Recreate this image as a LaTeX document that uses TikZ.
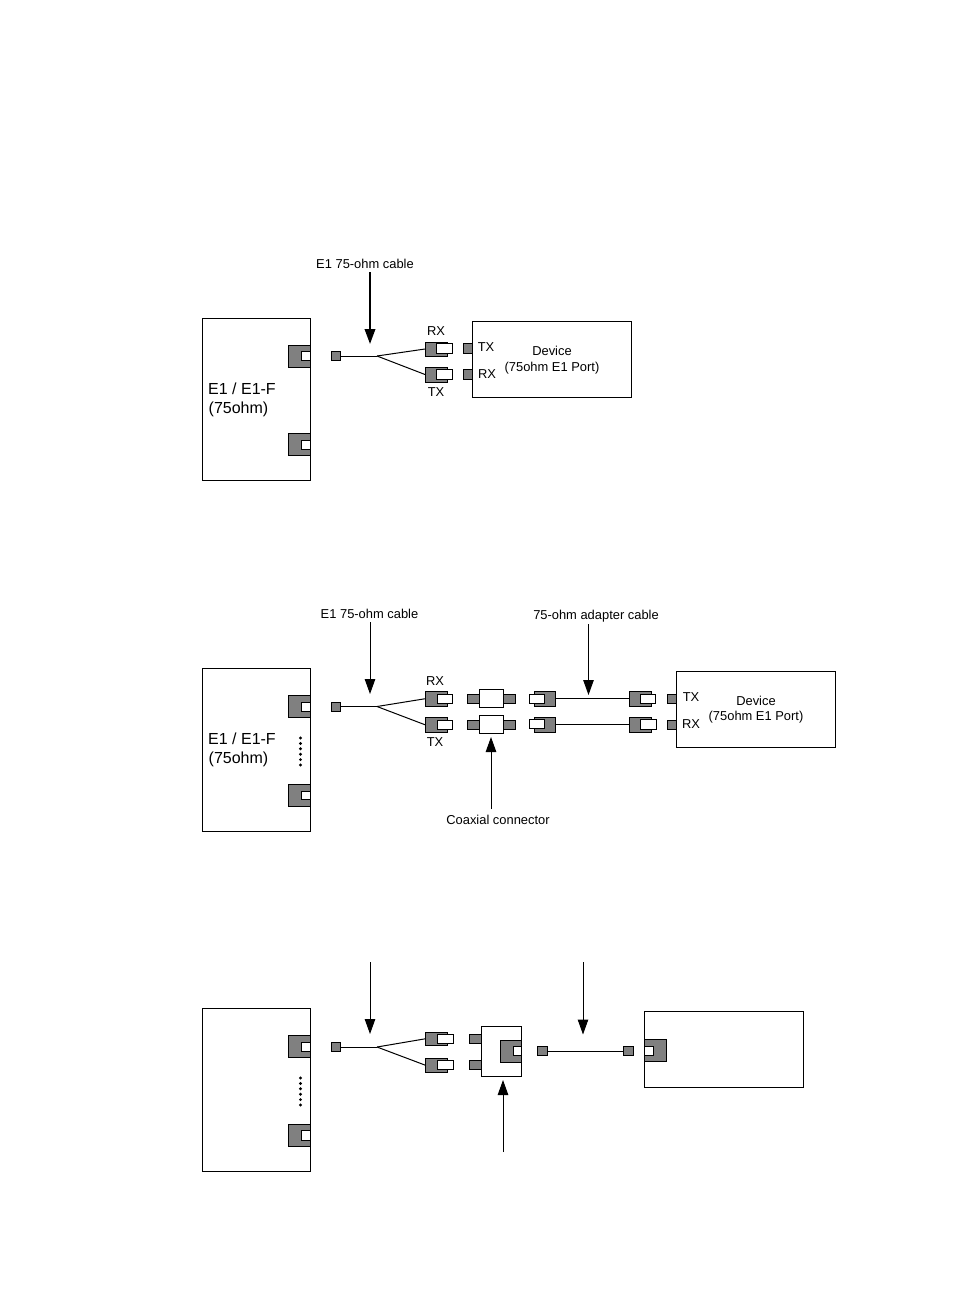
\documentclass[tikz,border=0pt]{standalone}
\usepackage{fontspec}
\setmainfont{Liberation Sans}
\usetikzlibrary{arrows.meta}
\definecolor{portgray}{HTML}{808080}
\tikzset{
  boxbase/.style={draw=black,line width=1pt,inner sep=0pt,outer sep=0pt},
  frame/.style={boxbase,fill=white},
  gray part/.style={boxbase,fill=portgray},
  white part/.style={boxbase,fill=white},
  cable/.style={draw=black,line width=1pt},
  arrow thin/.style={draw=black,line width=1pt,-{Triangle[length=15pt,width=10.5pt]}},
  arrow thick/.style={draw=black,line width=2pt,-{Triangle[length=15pt,width=10.5pt]}},
  small text/.style={inner sep=0pt,font=\fontsize{12.9}{15}\selectfont,text=black},
  big text/.style={inner sep=0pt,font=\fontsize{16}{19}\selectfont,text=black,anchor=west},
  dot mark/.style={fill=black,circle,inner sep=0pt,minimum size=3.2pt}
}
% name, x1, y1, x2, y2, style
\newcommand{\partbox}[6]{%
  \pgfmathsetmacro{\pcx}{(#2+#4)/2}%
  \pgfmathsetmacro{\pcy}{(#3+#5)/2}%
  \pgfmathsetmacro{\pw}{#4-#2}%
  \pgfmathsetmacro{\ph}{#5-#3}%
  \node[#6,minimum width=\pw pt,minimum height=\ph pt] (#1) at (\pcx,\pcy) {};%
}
% socket on chassis: name, x1,y1,x2,y2, wx1,wy1,wx2,wy2
\newcommand{\plugpart}[9]{%
  \partbox{#1g}{#2}{#3}{#4}{#5}{gray part}%
  \partbox{#1w}{#6}{#7}{#8}{#9}{white part}%
}
\begin{document}
\begin{tikzpicture}[x=1pt,y=-1pt]
\useasboundingbox (0,0) rectangle (954,1296);
\fill[white] (0,0) rectangle (954,1296);

%% ---------- Diagram 1
\partbox{ca}{202.5}{318.5}{310.5}{480.5}{frame}
\plugpart{aPa}{288.5}{345.5}{310.5}{367.5}{301.5}{351.5}{310.5}{360.5}
\plugpart{aPb}{288.5}{433.5}{310.5}{455.5}{301.5}{440.5}{310.5}{449.5}
\partbox{aS}{331}{351.5}{340}{360.5}{gray part}
\coordinate (aB) at (377,356);
\plugpart{aRx}{425}{342}{447}{356}{436.5}{343.5}{452}{353}
\plugpart{aTx}{425}{367}{447}{382}{436.5}{369.5}{452}{379}
\draw[cable] (aS.east) -- (aB);
\draw[cable] (aB) -- (aRxg.west);
\draw[cable] (aB) -- (aTxg.west);
\partbox{aD}{472.5}{321.5}{631.5}{397.5}{frame}
\partbox{aDa}{463}{343.5}{472.5}{353}{gray part}
\partbox{aDb}{463}{369.5}{472.5}{379.5}{gray part}
\node[small text] (aT1) at (486,347.5) {TX};
\node[small text] (aT2) at (487,374.5) {RX};
\node[small text] (aT3) at (552,351) {Device};
\node[small text] (aT4) at (552,368) {(75ohm E1 Port)};
\node[small text] (aT5) at (436,331) {RX};
\node[small text] (aT6) at (436,392) {TX};
\node[big text] (aT7) at (208,389) {E1 / E1-F};
\node[big text] (aT8) at (208.5,409.5) {(75ohm)};
\node[small text] (aL) at (365,263.5) {E1 75-ohm cable};
\coordinate (aAs) at (370,272);
\coordinate (aAe) at (370,344);
\draw[arrow thick] (aAs) -- (aAe);

%% ---------- Diagram 2
\partbox{cb}{202.5}{668.5}{310.5}{831.5}{frame}
\plugpart{bPa}{288.5}{695.5}{310.5}{717.5}{301.5}{702.5}{310.5}{711.5}
\plugpart{bPb}{288.5}{784.5}{310.5}{806.5}{301.5}{791}{310.5}{799.5}
\foreach \i/\yy in {1/738,2/743.4,3/748.8,4/754.2,5/759.6,6/765}
  \node[dot mark] (bDot\i) at (300.5,\yy) {};
\partbox{bS}{331}{702}{340}{711}{gray part}
\coordinate (bB) at (377,706.5);
\plugpart{bRx}{425}{691.5}{447}{706}{437}{694.5}{452}{703}
\plugpart{bTx}{425}{717.5}{447}{732}{437}{720.5}{452}{729.5}
\draw[cable] (bS.east) -- (bB);
\draw[cable] (bB) -- (bRxg.west);
\draw[cable] (bB) -- (bTxg.west);
% couplers
\partbox{bCal}{467.5}{694.5}{479}{703}{gray part}
\partbox{bCar}{503}{694.5}{515.5}{703}{gray part}
\partbox{bCa}{479.5}{689.5}{503}{707.5}{white part}
\partbox{bCbl}{467.5}{720.5}{479}{729}{gray part}
\partbox{bCbr}{503}{720.5}{515.5}{729}{gray part}
\partbox{bCb}{479.5}{715.5}{503}{733.5}{white part}
% adapter cable
\plugpart{bLa}{534}{691.5}{555.5}{706}{529.5}{694.5}{544}{703}
\plugpart{bLb}{534}{717.5}{555.5}{732}{529.5}{719.5}{544}{728.5}
\plugpart{bRa}{629.5}{691.5}{651}{706}{640.5}{694.5}{655.5}{703}
\plugpart{bRb}{629.5}{717.5}{651}{732}{640.5}{719.5}{656}{729}
\draw[cable] (bLag.east) -- (bRag.west);
\draw[cable] (bLbg.east) -- (bRbg.west);
\partbox{bD}{676.5}{671.5}{835.5}{747.5}{frame}
\partbox{bDa}{667}{694.5}{676.5}{703}{gray part}
\partbox{bDb}{667}{720.5}{676.5}{729}{gray part}
\node[small text] (bT1) at (691,697.5) {TX};
\node[small text] (bT2) at (691,724.5) {RX};
\node[small text] (bT3) at (756,701) {Device};
\node[small text] (bT4) at (756,717.5) {(75ohm E1 Port)};
\node[small text] (bT5) at (435,681) {RX};
\node[small text] (bT6) at (435,742) {TX};
\node[big text] (bT7) at (208,739) {E1 / E1-F};
\node[big text] (bT8) at (208.5,759.5) {(75ohm)};
\node[small text] (bL1) at (369.5,613.5) {E1 75-ohm cable};
\node[small text] (bL2) at (596,616.5) {75-ohm adapter cable};
\node[small text] (bL3) at (498,819.5) {Coaxial connector};
\coordinate (bA1s) at (370,622);
\coordinate (bA1e) at (370,694);
\draw[arrow thin] (bA1s) -- (bA1e);
\coordinate (bA2s) at (588.5,624);
\coordinate (bA2e) at (588.5,695);
\draw[arrow thin] (bA2s) -- (bA2e);
\coordinate (bA3s) at (491,809);
\coordinate (bA3e) at (491,737);
\draw[arrow thin] (bA3s) -- (bA3e);

%% ---------- Diagram 3
\partbox{cc}{202.5}{1008.5}{310.5}{1171.5}{frame}
\plugpart{cPa}{288.5}{1035.5}{310.5}{1057.5}{301.5}{1042.5}{310.5}{1051.5}
\plugpart{cPb}{288.5}{1124.5}{310.5}{1146.5}{301.5}{1130.5}{310.5}{1140}
\foreach \i/\yy in {1/1078,2/1083.4,3/1088.8,4/1094.2,5/1099.6,6/1105}
  \node[dot mark] (cDot\i) at (300.5,\yy) {};
\partbox{cS}{331}{1042.5}{340}{1051.5}{gray part}
\coordinate (cB) at (377,1047);
\plugpart{cRx}{425.5}{1032}{447}{1045.5}{437}{1034.5}{453}{1043.5}
\plugpart{cTx}{425.5}{1058.5}{447}{1072}{437}{1060.5}{453}{1069.5}
\draw[cable] (cS.east) -- (cB);
\draw[cable] (cB) -- (cRxg.west);
\draw[cable] (cB) -- (cTxg.west);
\partbox{cCa}{469.5}{1034.5}{481}{1043.5}{gray part}
\partbox{cCb}{469.5}{1060.5}{481}{1069.5}{gray part}
\partbox{cC}{481}{1026.5}{521.5}{1076.5}{frame}
\plugpart{cCi}{500.5}{1040.5}{521.5}{1062.5}{513}{1046.5}{521.5}{1055.5}
\partbox{cSa}{537.5}{1046.5}{547}{1055.5}{gray part}
\partbox{cSb}{623.5}{1046.5}{633}{1055.5}{gray part}
\draw[cable] (cSa.east) -- (cSb.west);
\partbox{cD}{644.5}{1011.5}{803.5}{1087.5}{frame}
\plugpart{cDi}{644.5}{1039.5}{666}{1061.5}{644.5}{1046.5}{653}{1055.5}
\coordinate (cA1s) at (370,962);
\coordinate (cA1e) at (370,1034);
\draw[arrow thin] (cA1s) -- (cA1e);
\coordinate (cA2s) at (583,962);
\coordinate (cA2e) at (583,1034.5);
\draw[arrow thin] (cA2s) -- (cA2e);
\coordinate (cA3s) at (503,1152);
\coordinate (cA3e) at (503,1080);
\draw[arrow thin] (cA3s) -- (cA3e);
\end{tikzpicture}
\end{document}
